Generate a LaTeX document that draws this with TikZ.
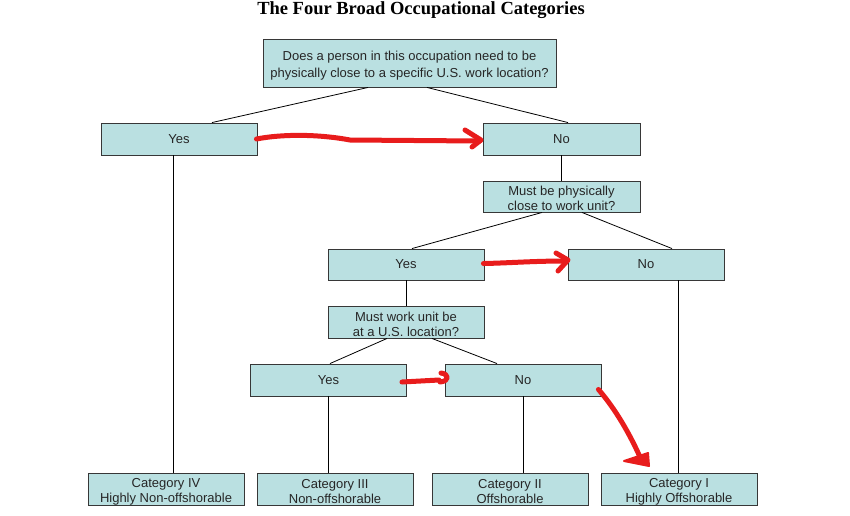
\documentclass[tikz,border=0pt]{standalone}
\usepackage{fontspec}
\setmainfont{Liberation Sans}
\newfontfamily\titlefont{Liberation Serif}
\definecolor{boxfill}{RGB}{186,224,225}
\definecolor{boxline}{RGB}{55,55,55}
\definecolor{redmark}{RGB}{232,28,28}
\tikzset{
  box/.style={draw=boxline, line width=0.9pt, fill=boxfill, minimum width=156pt, minimum height=32pt,
    inner sep=0pt, align=center, font=\fontsize{13}{15}\selectfont, text=black!85},
  twoline/.style={text height=29pt},
  conn/.style={draw=black, line width=0.8pt},
  redpen/.style={draw=redmark, line width=5pt, line cap=round, line join=round}
}
\begin{document}
\begin{tikzpicture}[x=1pt,y=-1pt]
\useasboundingbox (0,0) rectangle (850,515);
\fill[white] (0,0) rectangle (850,515);

\node[font=\titlefont\bfseries\fontsize{18.5}{20}\selectfont] (title) at (421,10) {The Four Broad Occupational Categories};

\node[box, minimum width=293pt, minimum height=48pt, text height=31.5pt, font=\fontsize{13}{16.5}\selectfont] (q1) at (409.5,63) {Does a person in this occupation need to be\\physically close to a specific U.S. work location?};
\node[box] (yes1) at (179,139) {Yes};
\node[box, minimum width=157pt] (no1) at (561.5,139) {No};
\node[box, twoline, minimum width=157pt, minimum height=31pt] (q2) at (561.5,196.5) {Must be physically\\close to work unit?};
\node[box, minimum height=31pt] (yes2) at (406,264.5) {Yes};
\node[box, minimum height=31pt] (no2) at (646,264.5) {No};
\node[box, twoline] (q3) at (406,322) {Must work unit be\\at a U.S. location?};
\node[box] (yes3) at (328.5,380) {Yes};
\node[box] (no3) at (523,380) {No};
\node[box, twoline] (cat4) at (166,489) {Category IV\\Highly Non-offshorable};
\node[box, twoline] (cat3) at (335,489) {Category III\\Non-offshorable};
\node[box, twoline] (cat2) at (510,489) {Category II\\Offshorable};
\node[box, twoline] (cat1) at (679,489) {Category I\\Highly Offshorable};

% connectors
\draw[conn] ([xshift=-41.5pt]q1.south) -- ([xshift=33pt]yes1.north);
\draw[conn] ([xshift=17.5pt]q1.south) -- ([xshift=6.5pt]no1.north);
\draw[conn] ([xshift=-6pt]yes1.south) -- ([xshift=-6pt]yes1.south |- cat4.north);
\draw[conn] (no1.south) -- (q2.north);
\draw[conn] ([xshift=-19.5pt]q2.south) -- ([xshift=6pt]yes2.north);
\draw[conn] ([xshift=20.5pt]q2.south) -- ([xshift=26pt]no2.north);
\draw[conn] (yes2.south) -- (q3.north);
\draw[conn] ([xshift=32pt]no2.south) -- ([xshift=32pt]no2.south |- cat1.north);
\draw[conn] ([xshift=-19pt]q3.south) -- ([xshift=1.5pt]yes3.north);
\draw[conn] ([xshift=26pt]q3.south) -- ([xshift=-26pt]no3.north);
\draw[conn] (yes3.south) -- (yes3.south |- cat3.north);
\draw[conn] (no3.south) -- (no3.south |- cat2.north);

% red hand-drawn arrows
\draw[redpen] ([xshift=-1pt]yes1.east) .. controls (282,134) and (318,134) .. (350,140) -- ([xshift=-3pt,yshift=-2pt]no1.west);
\draw[redpen] (465,130) -- (481,140) -- (472,147);

\draw[redpen] ([xshift=-1pt,yshift=1pt]yes2.east) .. controls (510,263) and (532,261) .. (566,261);
\draw[redpen] (556,253) -- (568,260) -- (558,271);

\draw[redpen] ([xshift=-5pt,yshift=-2pt]yes3.east) -- (439,380);
\draw[redpen] (441,373) .. controls (449,374) and (450,381) .. (440,382);

\draw[redpen] ([xshift=-3pt,yshift=7pt]no3.south east) .. controls (612,405) and (627,428) .. (640,457);
\filldraw[redmark, line width=2pt, line join=round] (624,461) -- (648,453) -- (649,466) -- cycle;
\end{tikzpicture}
\end{document}
